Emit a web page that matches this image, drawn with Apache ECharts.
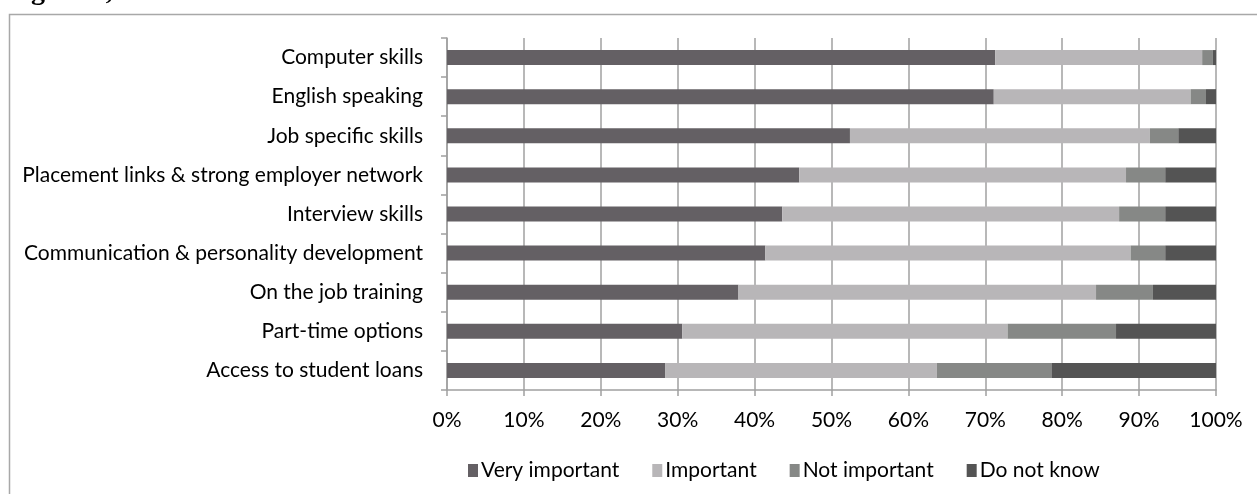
<!DOCTYPE html>
<html>
<head>
<meta charset="utf-8">
<script src="https://cdn.jsdelivr.net/npm/echarts@6/dist/echarts.min.js"></script>
<style>
html,body{margin:0;padding:0;background:#fff;}
#chart{width:1257px;height:494px;}
</style>
</head>
<body>
<div id="chart"></div>
<script>
const categories = [
  "Computer skills",
  "English speaking",
  "Job specific skills",
  "Placement links & strong employer network",
  "Interview skills",
  "Communication & personality development",
  "On the job training",
  "Part-time options",
  "Access to student loans"
];
const seriesNames = ["Very important", "Important", "Not important", "Do not know"];
const veryImportant = [71.3, 71.1, 52.4, 45.8, 43.6, 41.4, 37.9, 30.6, 28.4];
const important     = [26.9, 25.6, 39.0, 42.5, 43.8, 47.5, 46.5, 42.3, 35.3];
const notImportant  = [1.4, 2.0, 3.7, 5.1, 6.0, 4.5, 7.4, 14.1, 14.9];
const doNotKnow     = [0.4, 1.3, 4.9, 6.6, 6.6, 6.6, 8.2, 13.0, 21.4];
const xTicks = [0, 10, 20, 30, 40, 50, 60, 70, 80, 90, 100];

const colors = ["#646064", "#b8b6b8", "#868886", "#545454"];
const fontFamily = "Lato, 'Open Sans', sans-serif";
const lineColor = "#a0a0a0";

const chart = echarts.init(document.getElementById('chart'), null, {renderer: 'canvas'});
const values = [veryImportant, important, notImportant, doNotKnow];

chart.setOption({
  animation: false,
  backgroundColor: '#ffffff',
  graphic: [
    {
      type: 'rect',
      shape: {x: 9.5, y: 14.5, width: 1400, height: 700},
      style: {fill: 'none', stroke: '#a8a8a8', lineWidth: 1.5},
      silent: true
    },
    {
      type: 'text',
      x: 6,
      y: -22,
      style: {
        text: 'Figure 1,',
        font: 'bold 28px "Liberation Serif", serif',
        fill: '#000',
        verticalAlign: 'top'
      },
      silent: true
    }
  ],
  grid: {left: 447, right: 41, top: 38, bottom: 104, containLabel: false},
  legend: {
    data: seriesNames,
    left: 463,
    top: 455,
    icon: 'rect',
    itemWidth: 10,
    itemHeight: 13,
    itemGap: 33,
    textStyle: {fontFamily: fontFamily, fontSize: 21, color: '#000', padding: [0, 0, 0, -2]}
  },
  xAxis: {
    type: 'value',
    min: 0,
    max: 100,
    interval: 10,
    axisLine: {show: true, lineStyle: {color: lineColor, width: 1.5}},
    axisTick: {show: true, length: 6, lineStyle: {color: lineColor, width: 1.5}},
    splitLine: {show: true, lineStyle: {color: lineColor, width: 1.5}},
    axisLabel: {
      margin: 20,
      fontFamily: fontFamily,
      fontSize: 21,
      color: '#000',
      formatter: function (v) { return xTicks.indexOf(v) >= 0 ? v + '%' : ''; }
    }
  },
  yAxis: {
    type: 'category',
    inverse: true,
    data: categories,
    axisLine: {show: true, lineStyle: {color: lineColor, width: 1.5}},
    axisTick: {show: true, length: 6, lineStyle: {color: lineColor, width: 1.5}},
    splitLine: {show: false},
    axisLabel: {margin: 24, fontFamily: fontFamily, fontSize: 21, color: '#000'}
  },
  series: seriesNames.map(function (name, i) {
    return {
      name: name,
      type: 'bar',
      stack: 'total',
      barWidth: 15,
      itemStyle: {color: colors[i]},
      data: values[i]
    };
  })
});
</script>
</body>
</html>
